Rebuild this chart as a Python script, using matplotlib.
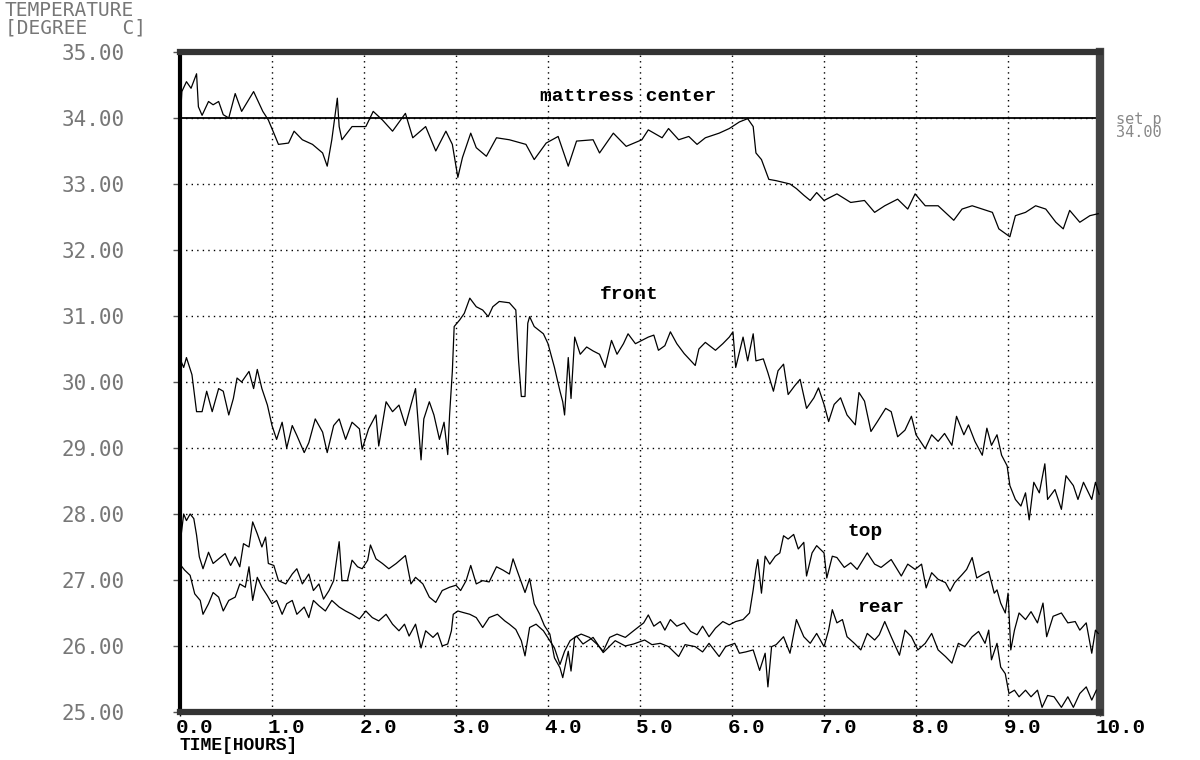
import matplotlib
matplotlib.use("Agg")
import matplotlib.pyplot as plt
from matplotlib.transforms import ScaledTranslation

# ---------------- data ----------------
hours_ticks = [0, 1, 2, 3, 4, 5, 6, 7, 8, 9, 10]
hour_labels = ["0.0", "1.0", "2.0", "3.0", "4.0", "5.0", "6.0", "7.0", "8.0", "9.0", "10.0"]
temp_ticks = [25, 26, 27, 28, 29, 30, 31, 32, 33, 34, 35]
temp_labels = ["25.00", "26.00", "27.00", "28.00", "29.00", "30.00",
               "31.00", "32.00", "33.00", "34.00", "35.00"]
set_point = 34.0

mattress_t = [0.00, 0.02, 0.07, 0.12, 0.18, 0.20, 0.24, 0.31, 0.36, 0.42,
              0.47, 0.53, 0.60, 0.67, 0.80, 0.90, 0.96, 1.02, 1.07, 1.18,
              1.24, 1.33, 1.44, 1.55, 1.60, 1.65, 1.71, 1.73, 1.76, 1.87,
              2.02, 2.10, 2.20, 2.31, 2.45, 2.53, 2.67, 2.78, 2.89, 2.96,
              3.02, 3.07, 3.16, 3.22, 3.33, 3.44, 3.58, 3.76, 3.85, 3.98,
              4.11, 4.22, 4.31, 4.49, 4.56, 4.71, 4.85, 5.02, 5.09, 5.24,
              5.31, 5.42, 5.53, 5.62, 5.71, 5.86, 5.97, 6.08, 6.17, 6.23,
              6.26, 6.32, 6.36, 6.40, 6.48, 6.63, 6.70, 6.78, 6.85, 6.92,
              7.00, 7.14, 7.29, 7.44, 7.55, 7.66, 7.80, 7.91, 7.99, 8.10,
              8.24, 8.41, 8.50, 8.61, 8.72, 8.83, 8.90, 8.97, 9.02, 9.08,
              9.19, 9.30, 9.41, 9.52, 9.60, 9.67, 9.78, 9.89, 9.98]
mattress_v = [33.87, 34.40, 34.55, 34.45, 34.67, 34.17, 34.04, 34.25, 34.20, 34.25,
              34.05, 34.00, 34.37, 34.10, 34.40, 34.10, 33.97, 33.77, 33.60, 33.62,
              33.80, 33.67, 33.60, 33.47, 33.27, 33.67, 34.30, 33.87, 33.67, 33.87,
              33.87, 34.10, 33.97, 33.80, 34.07, 33.70, 33.87, 33.50, 33.80, 33.60,
              33.10, 33.40, 33.77, 33.55, 33.42, 33.70, 33.67, 33.60, 33.37, 33.62,
              33.72, 33.27, 33.65, 33.67, 33.47, 33.77, 33.57, 33.67, 33.82, 33.70,
              33.84, 33.67, 33.72, 33.60, 33.70, 33.77, 33.84, 33.94, 33.99, 33.87,
              33.47, 33.37, 33.22, 33.07, 33.05, 33.00, 32.93, 32.83, 32.75, 32.87,
              32.75, 32.85, 32.72, 32.75, 32.57, 32.67, 32.77, 32.62, 32.85, 32.67,
              32.67, 32.45, 32.62, 32.67, 32.62, 32.57, 32.32, 32.25, 32.20, 32.52,
              32.57, 32.67, 32.62, 32.42, 32.32, 32.60, 32.42, 32.52, 32.55]

front_t = [0.00, 0.04, 0.07, 0.13, 0.18, 0.24, 0.29, 0.35, 0.42, 0.47,
           0.53, 0.58, 0.62, 0.67, 0.75, 0.80, 0.84, 0.89, 0.95, 1.00,
           1.05, 1.11, 1.16, 1.22, 1.27, 1.35, 1.40, 1.47, 1.55, 1.60,
           1.67, 1.73, 1.80, 1.87, 1.95, 1.98, 2.05, 2.13, 2.16, 2.24,
           2.31, 2.38, 2.45, 2.51, 2.56, 2.62, 2.65, 2.71, 2.76, 2.82,
           2.87, 2.91, 2.93, 2.96, 2.98, 3.04, 3.09, 3.15, 3.22, 3.29,
           3.35, 3.40, 3.47, 3.58, 3.65, 3.68, 3.71, 3.75, 3.78, 3.80,
           3.85, 3.95, 4.00, 4.07, 4.13, 4.16, 4.18, 4.22, 4.25, 4.29,
           4.35, 4.42, 4.49, 4.56, 4.62, 4.69, 4.75, 4.82, 4.87, 4.95,
           5.02, 5.09, 5.15, 5.20, 5.27, 5.33, 5.40, 5.48, 5.60, 5.64,
           5.71, 5.82, 5.90, 5.97, 6.01, 6.04, 6.12, 6.17, 6.23, 6.26,
           6.34, 6.39, 6.45, 6.50, 6.56, 6.61, 6.68, 6.74, 6.81, 6.89,
           6.94, 7.00, 7.05, 7.11, 7.18, 7.25, 7.34, 7.38, 7.44, 7.51,
           7.58, 7.67, 7.73, 7.80, 7.88, 7.95, 8.00, 8.10, 8.17, 8.24,
           8.31, 8.39, 8.44, 8.52, 8.57, 8.64, 8.72, 8.77, 8.82, 8.88,
           8.93, 8.99, 9.02, 9.08, 9.14, 9.19, 9.23, 9.28, 9.34, 9.40,
           9.43, 9.51, 9.58, 9.63, 9.71, 9.76, 9.82, 9.91, 9.95, 9.99]
front_v = [30.35, 30.22, 30.37, 30.11, 29.55, 29.55, 29.86, 29.55, 29.90, 29.86,
           29.50, 29.75, 30.06, 30.00, 30.16, 29.90, 30.19, 29.90, 29.65, 29.34,
           29.13, 29.39, 29.00, 29.34, 29.19, 28.93, 29.08, 29.44, 29.24, 28.93,
           29.34, 29.44, 29.13, 29.39, 29.29, 28.98, 29.29, 29.50, 29.03, 29.70,
           29.55, 29.65, 29.34, 29.65, 29.90, 28.82, 29.44, 29.70, 29.50, 29.13,
           29.39, 28.90, 29.50, 30.16, 30.84, 30.94, 31.04, 31.27, 31.14, 31.09,
           30.99, 31.14, 31.22, 31.20, 31.09, 30.32, 29.78, 29.78, 30.89, 30.99,
           30.84, 30.73, 30.58, 30.22, 29.86, 29.70, 29.50, 30.37, 29.75, 30.68,
           30.42, 30.53, 30.47, 30.42, 30.22, 30.63, 30.42, 30.58, 30.73, 30.58,
           30.63, 30.68, 30.71, 30.48, 30.55, 30.76, 30.58, 30.43, 30.25, 30.50,
           30.60, 30.48, 30.58, 30.68, 30.76, 30.22, 30.68, 30.32, 30.73, 30.32,
           30.35, 30.14, 29.86, 30.17, 30.27, 29.81, 29.94, 30.04, 29.60, 29.76,
           29.91, 29.66, 29.40, 29.66, 29.76, 29.50, 29.35, 29.84, 29.71, 29.25,
           29.40, 29.60, 29.55, 29.17, 29.27, 29.48, 29.20, 28.99, 29.20, 29.10,
           29.22, 29.04, 29.48, 29.20, 29.35, 29.10, 28.89, 29.30, 29.04, 29.20,
           28.89, 28.73, 28.43, 28.22, 28.12, 28.32, 27.91, 28.48, 28.32, 28.76,
           28.22, 28.37, 28.07, 28.58, 28.43, 28.22, 28.48, 28.22, 28.48, 28.30]

top_t = [0.00, 0.01, 0.04, 0.07, 0.11, 0.15, 0.18, 0.21, 0.25, 0.31,
         0.36, 0.42, 0.49, 0.55, 0.60, 0.65, 0.69, 0.75, 0.79, 0.84,
         0.89, 0.93, 0.96, 1.02, 1.07, 1.15, 1.22, 1.27, 1.33, 1.40,
         1.45, 1.51, 1.56, 1.62, 1.67, 1.73, 1.76, 1.82, 1.87, 1.93,
         1.98, 2.04, 2.07, 2.13, 2.20, 2.27, 2.35, 2.45, 2.51, 2.56,
         2.64, 2.71, 2.78, 2.85, 2.93, 3.00, 3.05, 3.11, 3.16, 3.22,
         3.29, 3.36, 3.44, 3.51, 3.58, 3.62, 3.67, 3.75, 3.80, 3.85,
         3.91, 3.96, 4.02, 4.07, 4.13, 4.16, 4.22, 4.25, 4.29, 4.36,
         4.45, 4.53, 4.60, 4.67, 4.75, 4.84, 4.93, 5.04, 5.09, 5.15,
         5.22, 5.27, 5.33, 5.40, 5.48, 5.55, 5.62, 5.68, 5.75, 5.82,
         5.90, 5.97, 6.04, 6.12, 6.19, 6.23, 6.26, 6.28, 6.32, 6.36,
         6.41, 6.47, 6.52, 6.56, 6.61, 6.67, 6.72, 6.78, 6.81, 6.87,
         6.92, 7.00, 7.03, 7.09, 7.14, 7.22, 7.29, 7.36, 7.47, 7.55,
         7.62, 7.73, 7.84, 7.91, 7.99, 8.06, 8.11, 8.17, 8.24, 8.32,
         8.37, 8.42, 8.50, 8.55, 8.61, 8.66, 8.72, 8.79, 8.85, 8.88,
         8.92, 8.97, 9.00, 9.03, 9.07, 9.12, 9.19, 9.25, 9.32, 9.38,
         9.42, 9.49, 9.58, 9.65, 9.73, 9.78, 9.85, 9.91, 9.95, 9.98]
top_v = [27.20, 27.65, 28.00, 27.90, 28.00, 27.93, 27.68, 27.35, 27.17, 27.42,
         27.25, 27.32, 27.40, 27.22, 27.35, 27.20, 27.55, 27.50, 27.88, 27.70,
         27.50, 27.65, 27.25, 27.22, 26.99, 26.94, 27.09, 27.17, 26.94, 27.09,
         26.84, 26.94, 26.71, 26.84, 26.99, 27.58, 26.99, 26.99, 27.30, 27.20,
         27.17, 27.30, 27.53, 27.32, 27.25, 27.17, 27.25, 27.37, 26.94, 27.04,
         26.94, 26.74, 26.66, 26.84, 26.89, 26.92, 26.84, 26.99, 27.22, 26.94,
         26.99, 26.97, 27.20, 27.15, 27.09, 27.32, 27.12, 26.81, 27.02, 26.64,
         26.48, 26.31, 26.18, 25.82, 25.67, 25.52, 25.92, 25.62, 26.13, 26.18,
         26.13, 26.03, 25.92, 26.13, 26.18, 26.13, 26.23, 26.35, 26.47, 26.30,
         26.37, 26.24, 26.40, 26.30, 26.35, 26.22, 26.17, 26.30, 26.14, 26.27,
         26.37, 26.32, 26.37, 26.40, 26.50, 26.85, 27.16, 27.31, 26.80, 27.36,
         27.24, 27.36, 27.41, 27.67, 27.62, 27.69, 27.47, 27.57, 27.06, 27.41,
         27.52, 27.41, 27.03, 27.36, 27.34, 27.19, 27.26, 27.16, 27.41, 27.24,
         27.19, 27.31, 27.06, 27.24, 27.16, 27.24, 26.88, 27.11, 27.01, 26.96,
         26.83, 26.96, 27.08, 27.16, 27.34, 27.03, 27.08, 27.13, 26.80, 26.85,
         26.65, 26.50, 26.80, 25.94, 26.24, 26.50, 26.40, 26.52, 26.35, 26.65,
         26.14, 26.45, 26.50, 26.35, 26.37, 26.24, 26.35, 25.89, 26.24, 26.19]

rear_t = [0.01, 0.05, 0.11, 0.16, 0.22, 0.25, 0.31, 0.36, 0.42, 0.47,
          0.53, 0.60, 0.65, 0.71, 0.75, 0.79, 0.84, 0.89, 0.95, 1.00,
          1.05, 1.11, 1.16, 1.22, 1.27, 1.35, 1.40, 1.45, 1.51, 1.58,
          1.65, 1.73, 1.80, 1.87, 1.95, 2.02, 2.09, 2.16, 2.24, 2.31,
          2.38, 2.44, 2.49, 2.56, 2.62, 2.67, 2.75, 2.80, 2.85, 2.91,
          2.95, 2.97, 3.02, 3.07, 3.15, 3.22, 3.29, 3.36, 3.45, 3.53,
          3.58, 3.65, 3.71, 3.75, 3.80, 3.87, 3.95, 4.02, 4.07, 4.13,
          4.18, 4.24, 4.31, 4.38, 4.49, 4.60, 4.73, 4.84, 4.93, 5.05,
          5.13, 5.22, 5.31, 5.42, 5.49, 5.60, 5.68, 5.75, 5.86, 5.93,
          6.03, 6.08, 6.15, 6.23, 6.30, 6.36, 6.39, 6.43, 6.48, 6.56,
          6.63, 6.70, 6.78, 6.85, 6.92, 7.00, 7.05, 7.09, 7.14, 7.20,
          7.25, 7.33, 7.40, 7.47, 7.55, 7.60, 7.66, 7.73, 7.82, 7.88,
          7.95, 8.02, 8.10, 8.17, 8.24, 8.32, 8.39, 8.46, 8.53, 8.61,
          8.68, 8.75, 8.79, 8.82, 8.88, 8.92, 8.97, 9.01, 9.07, 9.12,
          9.19, 9.25, 9.32, 9.37, 9.43, 9.50, 9.58, 9.65, 9.71, 9.78,
          9.85, 9.91, 9.96]
rear_v = [27.22, 27.15, 27.07, 26.79, 26.69, 26.48, 26.64, 26.81, 26.74, 26.53,
          26.69, 26.74, 26.94, 26.89, 27.20, 26.69, 27.04, 26.89, 26.76, 26.64,
          26.69, 26.48, 26.64, 26.69, 26.48, 26.59, 26.43, 26.69, 26.61, 26.53,
          26.69, 26.59, 26.53, 26.48, 26.41, 26.53, 26.43, 26.38, 26.48, 26.33,
          26.23, 26.33, 26.15, 26.33, 25.97, 26.23, 26.13, 26.20, 26.00, 26.03,
          26.23, 26.48, 26.53, 26.51, 26.48, 26.43, 26.28, 26.43, 26.48, 26.38,
          26.33, 26.25, 26.08, 25.85, 26.28, 26.33, 26.23, 26.08, 25.97, 25.72,
          25.92, 26.08, 26.15, 26.03, 26.13, 25.90, 26.08, 26.00, 26.03, 26.09,
          26.02, 26.04, 25.99, 25.84, 26.02, 25.99, 25.91, 26.04, 25.84, 25.99,
          26.04, 25.89, 25.91, 25.94, 25.63, 25.89, 25.38, 25.99, 26.02, 26.14,
          25.89, 26.40, 26.14, 26.04, 26.19, 25.99, 26.24, 26.55, 26.35, 26.40,
          26.14, 26.04, 25.94, 26.19, 26.09, 26.17, 26.37, 26.14, 25.86, 26.24,
          26.14, 25.94, 26.04, 26.19, 25.94, 25.84, 25.74, 26.04, 25.99, 26.14,
          26.22, 26.04, 26.24, 25.79, 26.04, 25.68, 25.58, 25.28, 25.33, 25.23,
          25.33, 25.23, 25.33, 25.07, 25.25, 25.23, 25.07, 25.23, 25.07, 25.28,
          25.38, 25.18, 25.33]

labels = ["mattress center", "front", "top", "rear"]
label_x = [4.87, 4.88, 7.45, 7.61]
label_y = [34.33, 31.33, 27.73, 26.59]

# ---------------- figure ----------------
fig = plt.figure(figsize=(12, 7.6), dpi=100)
fig.patch.set_facecolor("white")
ax = fig.add_axes([0.15, 0.0632, 0.7667, 0.8684])
ax.set_xlim(0, 10)
ax.set_ylim(25, 35)

# grid
ax.set_xticks(hours_ticks)
ax.set_yticks(temp_ticks)
ax.grid(True, color="black", linestyle=(0, (1, 3)), linewidth=1.0)
ax.set_axisbelow(True)
ax.axhline(set_point, color="black", linewidth=1.3, zorder=2)

# data
for t, v in [(mattress_t, mattress_v), (front_t, front_v),
             (top_t, top_v), (rear_t, rear_v)]:
    ax.plot(t, v, color="black", linewidth=0.9, zorder=3)

mono = ["Liberation Mono", "DejaVu Sans Mono"]
for s, x, y in zip(labels, label_x, label_y):
    ax.text(x, y, s, ha="center", va="center", fontsize=14,
            fontweight="bold", family=mono, color="black", zorder=4)

# spines (thick, dark, like the plotter frame)
ax.spines["left"].set_linewidth(3.0)
ax.spines["left"].set_color("black")
ax.spines["top"].set_linewidth(4.5)
ax.spines["top"].set_color("#333333")
ax.spines["bottom"].set_linewidth(4.5)
ax.spines["bottom"].set_color("#333333")
ax.spines["right"].set_linewidth(6.0)
ax.spines["right"].set_color("#444444")

# y tick labels
ax.set_yticklabels(temp_labels, family=["DejaVu Sans Mono"], fontsize=15,
                   color="#777777")
ax.tick_params(axis="y", direction="out", length=5, width=1, color="#555555",
               pad=35)

# x tick labels
ax.set_xticklabels(hour_labels, family=mono, fontsize=15, fontweight="bold",
                   color="black", ha="left")
ax.tick_params(axis="x", direction="out", length=3, width=1, color="black",
               pad=1)
off = ScaledTranslation(-4 / 100, 0, fig.dpi_scale_trans)
for lab in ax.get_xticklabels():
    lab.set_transform(lab.get_transform() + off)

# axis titles
fig.text(0.15, 1 - 746 / 760, "TIME[HOURS]", family=mono, fontsize=13,
         fontweight="bold", color="black", ha="left", va="center")
fig.text(0.004, 1 - 10 / 760, "TEMPERATURE", family=["DejaVu Sans Mono"],
         fontsize=14, color="#777777", ha="left", va="center")
fig.text(0.004, 1 - 28 / 760, "[DEGREE   C]", family=["DejaVu Sans Mono"],
         fontsize=14, color="#777777", ha="left", va="center")

# set point note at the right
fig.text(1116 / 1200, 1 - 126 / 760, "set p\n34.00", family=["DejaVu Sans Mono"],
         fontsize=11, color="#888888", ha="left", va="center", linespacing=0.9)

fig.savefig("out.png", dpi=100)
